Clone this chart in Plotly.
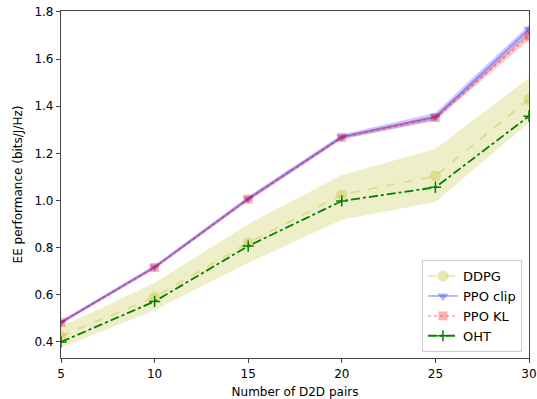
import plotly.graph_objects as go

x = [5, 10, 15, 20, 25, 30]
ddpg = [0.425, 0.59, 0.82, 1.025, 1.104, 1.43]
ddpg_lo = [0.375, 0.535, 0.735, 0.918, 0.994, 1.33]
ddpg_hi = [0.465, 0.65, 0.90, 1.108, 1.219, 1.52]
ppo_clip = [0.483, 0.718, 1.008, 1.27, 1.355, 1.727]
ppo_clip_lo = [0.475, 0.71, 0.998, 1.26, 1.338, 1.705]
ppo_clip_hi = [0.491, 0.726, 1.018, 1.28, 1.372, 1.745]
ppo_kl = [0.483, 0.716, 1.006, 1.268, 1.352, 1.698]
ppo_kl_lo = [0.477, 0.71, 0.998, 1.26, 1.342, 1.68]
ppo_kl_hi = [0.489, 0.722, 1.014, 1.276, 1.362, 1.716]
oht = [0.40, 0.572, 0.807, 0.998, 1.056, 1.358]

xticks = [5, 10, 15, 20, 25, 30]
yticks = [0.4, 0.6, 0.8, 1.0, 1.2, 1.4, 1.6, 1.8]
ytick_labels = ["0.4", "0.6", "0.8", "1.0", "1.2", "1.4", "1.6", "1.8"]

fig = go.Figure()

def band(lo, hi, color):
    fig.add_trace(go.Scatter(x=x, y=hi, mode="lines", line=dict(width=0), showlegend=False, hoverinfo="skip"))
    fig.add_trace(go.Scatter(x=x, y=lo, mode="lines", line=dict(width=0), fill="tonexty",
                             fillcolor=color, showlegend=False, hoverinfo="skip"))

band(ddpg_lo, ddpg_hi, "rgba(188,189,34,0.25)")
band(ppo_clip_lo, ppo_clip_hi, "rgba(0,0,255,0.2)")
band(ppo_kl_lo, ppo_kl_hi, "rgba(255,0,0,0.2)")

fig.add_trace(go.Scatter(x=x, y=ddpg, name="DDPG", mode="lines+markers",
                         line=dict(color="rgba(188,189,34,0.35)", width=1.8, dash="dash"),
                         marker=dict(symbol="circle", size=11, color="rgba(188,189,34,0.35)")))
fig.add_trace(go.Scatter(x=x, y=ppo_clip, name="PPO clip", mode="lines+markers",
                         line=dict(color="rgba(0,0,255,0.3)", width=1.8),
                         marker=dict(symbol="triangle-down", size=10, color="rgba(0,0,255,0.3)")))
fig.add_trace(go.Scatter(x=x, y=ppo_kl, name="PPO KL", mode="lines+markers",
                         line=dict(color="rgba(255,0,0,0.3)", width=1.8, dash="dot"),
                         marker=dict(symbol="square", size=9, color="rgba(255,0,0,0.3)")))
fig.add_trace(go.Scatter(x=x, y=oht, name="OHT", mode="lines+markers",
                         line=dict(color="green", width=1.8, dash="dashdot"),
                         marker=dict(symbol="cross-thin", size=8, line=dict(color="green", width=1.5))))

axis_common = dict(showline=True, linecolor="#444", linewidth=1.2, mirror=True, showgrid=False,
                   zeroline=False, ticks="outside", ticklen=4, tickcolor="#444",
                   tickfont=dict(family="DejaVu Sans", size=12, color="black"))

fig.update_layout(
    width=537, height=399,
    margin=dict(l=61, r=8, t=11, b=41, autoexpand=False),
    paper_bgcolor="white", plot_bgcolor="white",
    font=dict(family="DejaVu Sans", size=12, color="black"),
    xaxis=dict(range=[5, 30], tickvals=xticks, title=dict(text="Number of D2D pairs", standoff=9,
               font=dict(size=12)), **axis_common),
    yaxis=dict(range=[0.332, 1.804], tickvals=yticks, ticktext=ytick_labels,
               title=dict(text="EE performance (bits/J/Hz)", standoff=9, font=dict(size=12)), **axis_common),
    legend=dict(x=0.985, y=0.017, xanchor="right", yanchor="bottom", bgcolor="rgba(255,255,255,0.8)",
                bordercolor="#ccc", borderwidth=1, font=dict(size=13), traceorder="normal",
                tracegroupgap=0, itemwidth=30),
    showlegend=True,
)

fig.write_html("out.html", config={"displayModeBar": False},
               post_script="document.body.style.margin='0';document.body.style.overflow='hidden';")
